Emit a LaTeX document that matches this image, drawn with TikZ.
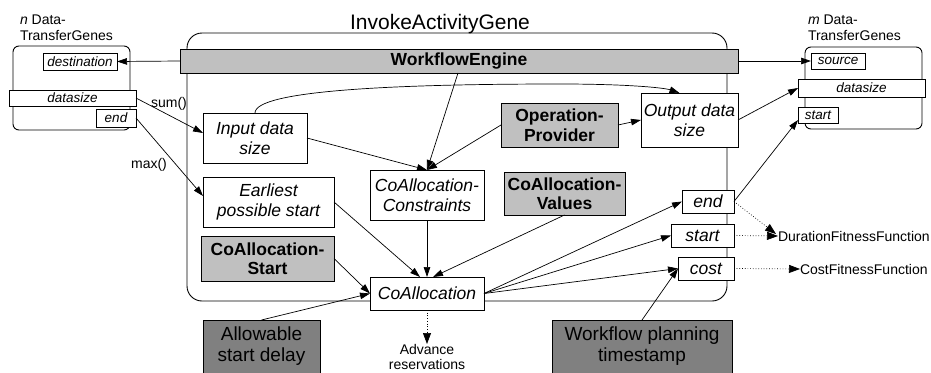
\documentclass[tikz,border=0pt]{standalone}
\usepackage{fontspec}
\setmainfont{Liberation Sans}
\usetikzlibrary{arrows.meta,calc}
\definecolor{lgray}{RGB}{192,192,192}
\definecolor{dgray}{RGB}{128,128,128}
\begin{document}
\begin{tikzpicture}[x=1pt,y=-1pt,
 every node/.style={inner sep=0pt, outer sep=0pt},
 box/.style={draw, fill=white, line width=0.9pt, align=center, font=\fontsize{17.5}{19.5}\selectfont\itshape},
 lbox/.style={draw, fill=lgray, line width=0.9pt, align=center, font=\fontsize{17.5}{19.5}\selectfont\bfseries},
 dbox/.style={draw, fill=dgray, line width=0.9pt, align=center, font=\fontsize{19}{21}\selectfont},
 sbox/.style={draw, fill=white, line width=0.9pt, font=\fontsize{13.5}{15}\selectfont\itshape},
 gene/.style={draw, fill=white, line width=0.9pt, rounded corners=6pt},
 conn/.style={line width=0.7pt, -{Triangle[length=10pt,width=6.5pt]}},
 dconn/.style={line width=0.7pt, dotted, -{Triangle[length=11pt,width=8pt]}},
 lbl/.style={font=\fontsize{14}{15.5}\selectfont, align=left},
]
\useasboundingbox (0,0) rectangle (931,372);

% main container
\node[draw, line width=0.9pt, rounded corners=15pt, minimum width=540pt, minimum height=268pt] (main) at (457,167) {};
\node[font=\fontsize{21}{23}\selectfont] (title) at (440,24.5) {InvokeActivityGene};

% gene boxes
\node[gene, minimum width=117pt, minimum height=84pt] (lg) at (71.5,88) {};
\node[lbl, anchor=west] (lgt) at (20,28) {\textit{n} Data-\\TransferGenes};
\node[gene, minimum width=117pt, minimum height=82pt] (rg) at (863.5,88) {};
\node[lbl, anchor=west] (rgt) at (808,28) {\textit{m} Data-\\TransferGenes};

\node[sbox, minimum width=74pt, minimum height=17pt] (dest) at (80,61.5) {destination};
\node[sbox, minimum width=127pt, minimum height=16pt] (lds) at (72.5,98) {datasize};
\node[sbox, minimum width=40pt, minimum height=18pt] (lend) at (116,118) {end};
\node[sbox, minimum width=54pt, minimum height=16pt] (src) at (838,61) {source};
\node[sbox, minimum width=127pt, minimum height=18pt] (rds) at (861.5,88) {datasize};
\node[sbox, minimum width=40pt, minimum height=16pt] (rstart) at (818,115) {start};

% workflow engine bar
\node[lbox, minimum width=558pt, minimum height=24pt] (wfe) at (459,61) {WorkflowEngine};

% inner nodes
\node[box, minimum width=104pt, minimum height=50pt] (inp) at (255,138) {Input data\\size};
\node[box, minimum width=131pt, minimum height=50pt] (eps) at (268.5,202) {Earliest\\possible start};
\node[box, minimum width=114pt, minimum height=50pt] (cc) at (427,195) {CoAllocation-\\Constraints};
\node[lbox, minimum width=121pt, minimum height=43pt] (cv) at (564.5,193.5) {CoAllocation-\\Values};
\node[lbox, minimum width=117pt, minimum height=44pt] (op) at (559.5,125) {Operation-\\Provider};
\node[box, minimum width=97pt, minimum height=54pt] (out) at (689.5,120) {Output data\\size};
\node[lbox, minimum width=133pt, minimum height=45pt] (cs) at (267.5,258.5) {CoAllocation-\\Start};
\node[box, minimum width=114pt, minimum height=33pt] (ca) at (427,293.5) {CoAllocation};
\node[box, minimum width=52pt, minimum height=23pt] (endn) at (708,201.5) {end};
\node[box, minimum width=63pt, minimum height=23pt] (startn) at (702.5,235.5) {start};
\node[box, minimum width=56pt, minimum height=23pt] (costn) at (706,268.5) {cost};

% outer nodes
\node[dbox, minimum width=117pt, minimum height=53pt] (asd) at (261.5,346.5) {Allowable\\start delay};
\node[dbox, minimum width=180pt, minimum height=53pt] (wpt) at (642,346.5) {Workflow planning\\timestamp};
\node[lbl, align=center, anchor=north] (adv) at (427,344) {Advance\\reservations};
\node[lbl, anchor=west] (dff) at (778,236) {DurationFitnessFunction};
\node[lbl, anchor=west] (cff) at (800,269) {CostFitnessFunction};

% labels
\node[lbl] (sum) at (169,104) {sum()};
\node[lbl] (max) at (149,165) {max()};

% connectors
\draw[conn] (wfe.west) -- (dest.east);
\draw[conn] (wfe.east) -- (src.west);
\draw[conn] (lds.east) -- ($(inp.west)+(0,-5)$);
\draw[conn] (lend.east) -- ($(eps.west)+(0,-6)$);
\draw[conn] (inp.north) .. controls (255,90) and (400,84) .. (560,84) .. controls (630,84) and (665,88) .. ($(out.north)+(-10,0)$);
\draw[conn] ($(wfe.south)+(-1,0)$) -- (cc.north);
\draw[conn] (inp.east) -- (cc.north);
\draw[conn] (op.west) -- (cc.north);
\draw[conn] (op.east) -- (out.west);
\draw[conn] (eps.east) -- ($(ca.north)+(-7,0)$);
\draw[conn] (cc.south) -- (ca.north);
\draw[conn] (cv.south) -- ($(ca.north)+(6,0)$);
\draw[conn] (cs.east) -- (ca.west);
\draw[conn] (asd.north) -- (ca.west);
\draw[conn] (ca.east) -- (endn.west);
\draw[conn] (ca.east) -- (startn.west);
\draw[conn] (ca.east) -- (costn.west);
\draw[conn] (wpt.north) -- (costn.west);
\draw[conn] (endn.east) -- ($(rstart.south west)+(0,-3)$);
\draw[conn] (out.east) -- (rds.west);
\draw[dconn] (endn.east) -- ($(dff.west)+(-2,-2)$);
\draw[dconn] (startn.east) -- (dff.west);
\draw[dconn] (costn.east) -- (cff.west);
\draw[dconn] (ca.south) -- (adv.north);
\end{tikzpicture}
\end{document}
